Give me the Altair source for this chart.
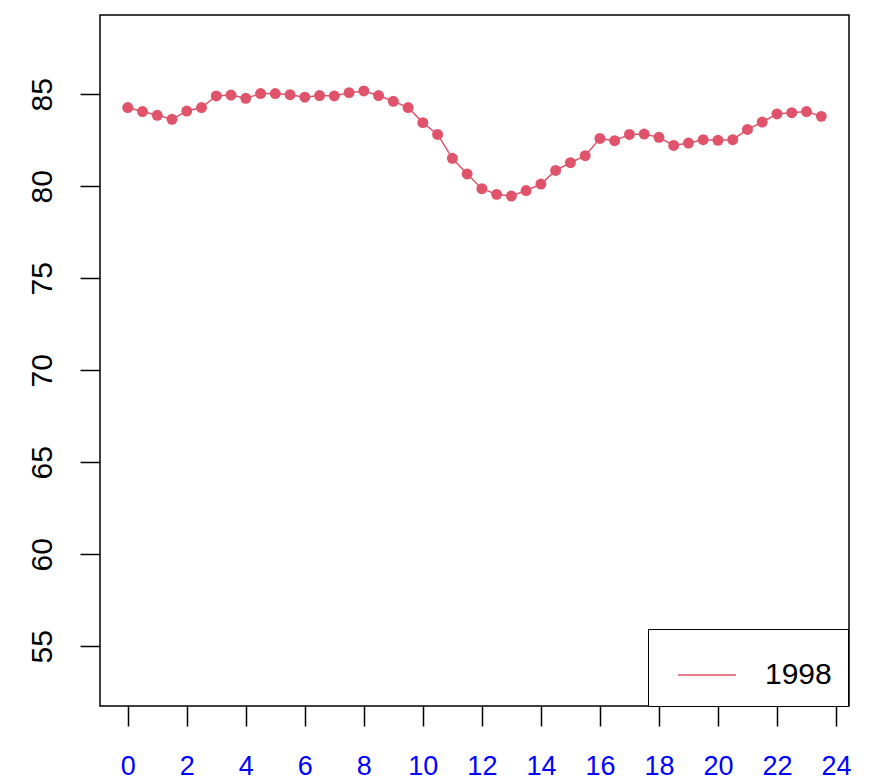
import altair as alt
import pandas as pd

hours = [0.0, 0.5, 1.0, 1.5, 2.0, 2.5, 3.0, 3.5, 4.0, 4.5, 5.0, 5.5,
         6.0, 6.5, 7.0, 7.5, 8.0, 8.5, 9.0, 9.5, 10.0, 10.5, 11.0, 11.5,
         12.0, 12.5, 13.0, 13.5, 14.0, 14.5, 15.0, 15.5, 16.0, 16.5, 17.0, 17.5,
         18.0, 18.5, 19.0, 19.5, 20.0, 20.5, 21.0, 21.5, 22.0, 22.5, 23.0, 23.5]
values_1998 = [84.28, 84.06, 83.86, 83.64, 84.09, 84.28, 84.91, 84.96, 84.78, 85.04, 85.04, 84.98,
               84.84, 84.93, 84.91, 85.09, 85.18, 84.93, 84.62, 84.28, 83.46, 82.82, 81.52, 80.67,
               79.87, 79.56, 79.47, 79.77, 80.12, 80.86, 81.28, 81.66, 82.60, 82.48, 82.82, 82.84,
               82.66, 82.22, 82.35, 82.53, 82.50, 82.53, 83.09, 83.49, 83.93, 84.00, 84.06, 83.80]
series_name = "1998"
x_ticks = [0, 2, 4, 6, 8, 10, 12, 14, 16, 18, 20, 22, 24]
y_ticks = [55, 60, 65, 70, 75, 80, 85]

df = pd.DataFrame({"hour": hours, "value": values_1998, "year": series_name})

COLOR = "#DF536B"
FONT = "Liberation Sans"

x_enc = alt.X(
    "hour:Q",
    scale=alt.Scale(domain=[-0.94, 24.44], nice=False, zero=False),
    axis=alt.Axis(
        values=x_ticks, title=None, grid=False, domain=False,
        tickSize=20, tickWidth=1.5, tickColor="black",
        labelColor="#0000FF", labelFont=FONT, labelFontSize=27,
        labelPadding=27, labelFlush=False, labelOverlap=False,
    ),
)
y_enc = alt.Y(
    "value:Q",
    scale=alt.Scale(domain=[51.75, 89.31], nice=False, zero=False),
    axis=alt.Axis(
        values=y_ticks, title=None, grid=False, domain=False,
        tickSize=20, tickWidth=1.5, tickColor="black",
        labelColor="black", labelFont=FONT, labelFontSize=30,
        labelAngle=270, labelAlign="center", labelBaseline="bottom",
        labelPadding=23, labelFlush=False, labelOverlap=False,
    ),
)

line = alt.Chart(df).mark_line(strokeWidth=1.5).encode(
    x=x_enc,
    y=y_enc,
    color=alt.Color(
        "year:N",
        scale=alt.Scale(domain=[series_name], range=[COLOR]),
        legend=alt.Legend(
            title=None, orient="none", legendX=548, legendY=614,
            direction="vertical", symbolType="stroke", symbolSize=3364,
            symbolStrokeWidth=1.5, symbolOffset=13,
            labelFont=FONT, labelFontSize=30,
            labelColor="black", labelOffset=28, padding=16,
            strokeColor="black", fillColor="white", cornerRadius=0,
        ),
    ),
)

points = alt.Chart(df).mark_circle(size=120, opacity=1, color=COLOR).encode(
    x="hour:Q",
    y="value:Q",
)

chart = alt.layer(line, points).properties(
    width=749,
    height=691,
    padding={"left": 92, "top": 7, "right": 10, "bottom": 70},
    autosize=alt.AutoSizeParams(type="none"),
).configure(
    background="white"
).configure_view(
    stroke="black", strokeWidth=1.5, fill="white"
)

chart.save("out.html", embed_options={"renderer": "svg", "actions": False})
